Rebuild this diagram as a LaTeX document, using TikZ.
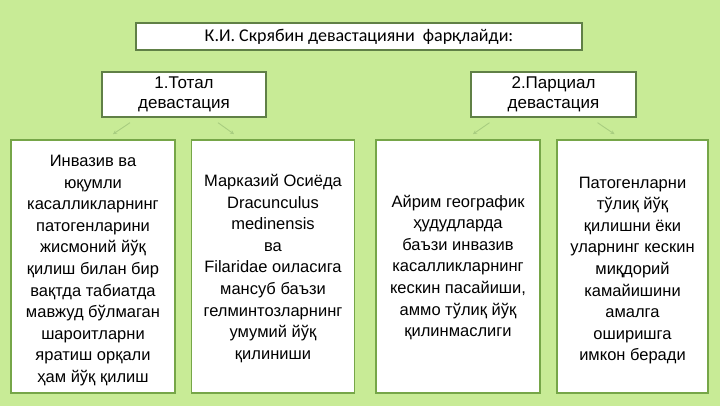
\documentclass[tikz,border=0pt]{standalone}
\usepackage{fontspec}
\usetikzlibrary{calc,arrows.meta}
\setmainfont{Liberation Sans}
\newfontfamily\narrowfont{Carlito}
\definecolor{bgg}{RGB}{200,235,150}
\definecolor{boxline}{RGB}{118,166,72}
\definecolor{topline}{RGB}{96,128,70}
\definecolor{arrowc}{RGB}{168,205,128}
\begin{document}
\begin{tikzpicture}[x=1pt,y=-1pt,
  titlebox/.style={draw=topline,line width=1.4pt,fill=white,inner sep=0pt,align=center,font=\narrowfont\fontsize{18}{20}\selectfont},
  topbox/.style={draw=topline,line width=1.4pt,fill=white,inner sep=0pt,align=center,font=\fontsize{17}{20}\selectfont},
  bigbox/.style={draw=boxline,line width=1.8pt,fill=white,inner sep=0pt,minimum height=253pt},
  bigtext/.style={inner sep=0pt,align=center,font=\fontsize{16.5}{21.6}\selectfont},
  arr/.style={draw=arrowc,line width=0.9pt,-{Stealth[length=4pt,width=4pt]}}]
\fill[bgg] (0,0) rectangle (720,406);
\useasboundingbox (0,0) rectangle (720,406);
\node[titlebox,minimum width=446pt,minimum height=27pt] (title) at (359,36.5) {К.И. Скрябин девастацияни\ \ фарқлайди:};
\node[topbox,minimum width=164pt,minimum height=45pt] (tot) at (184,94.5) {1.Тотал\\девастация};
\node[topbox,minimum width=165pt,minimum height=45pt] (par) at (553.5,94.5) {2.Парциал\\девастация};
\node[bigbox,minimum width=164pt] (a) at (93,266.5) {};
\node[bigbox,minimum width=163pt] (b) at (273,266.5) {};
\node[bigbox,minimum width=164pt] (c) at (458,266.5) {};
\node[bigbox,minimum width=151pt] (d) at (632.5,266.5) {};
\node[bigtext] (at) at ($(a.center)+(0,4)$) {Инвазив ва\\юқумли\\касалликларнинг\\патогенларини\\жисмоний йўқ\\қилиш билан бир\\вақтда табиатда\\мавжуд бўлмаган\\шароитларни\\яратиш орқали\\ҳам йўқ қилиш};
\node[bigtext] (bt) at ($(b.center)+(0,2)$) {Марказий Осиёда\\Dracunculus\\medinensis\\ва\\Filaridae оиласига\\мансуб баъзи\\гелминтозларнинг\\умумий йўқ\\қилиниши};
\node[bigtext] (ct) at ($(c.center)+(0,1)$) {Айрим географик\\ҳудудларда\\баъзи инвазив\\касалликларнинг\\кескин пасайиши,\\аммо тўлиқ йўқ\\қилинмаслиги};
\node[bigtext] (dt) at ($(d.center)+(0,4)$) {Патогенларни\\тўлиқ йўқ\\қилишни ёки\\уларнинг кескин\\миқдорий\\камайишини\\амалга\\оширишга\\имкон беради};
\coordinate (t1) at ($(tot.south)+(-54,5)$);
\coordinate (t2) at ($(tot.south)+(34,5)$);
\coordinate (p1) at ($(par.south)+(-64,5)$);
\coordinate (p2) at ($(par.south)+(44,5)$);
\coordinate (a1) at ($(a.north)+(20,-5)$);
\coordinate (b1) at ($(b.north)+(-39,-5)$);
\coordinate (c1) at ($(c.north)+(15,-5)$);
\coordinate (d1) at ($(d.north)+(-18,-5)$);
\draw[arr] (t1) -- (a1);
\draw[arr] (t2) -- (b1);
\draw[arr] (p1) -- (c1);
\draw[arr] (p2) -- (d1);
\end{tikzpicture}
\end{document}
